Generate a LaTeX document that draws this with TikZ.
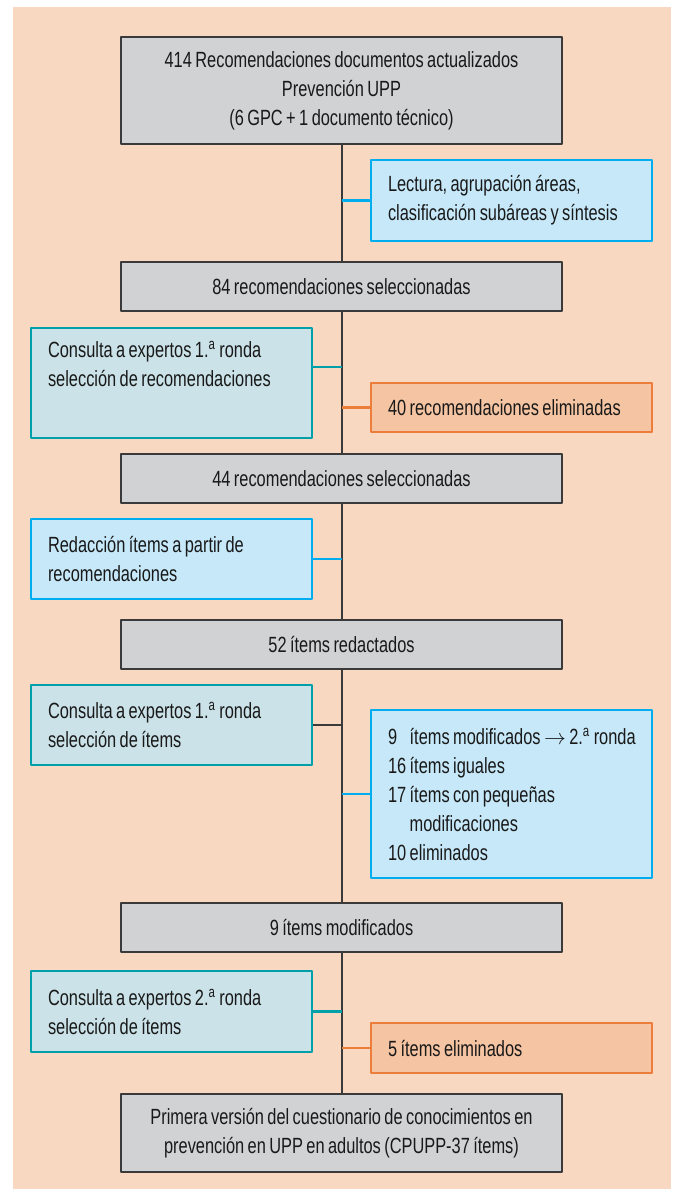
\documentclass[tikz,border=0pt]{standalone}
\usepackage{fontspec}
\setmainfont{Liberation Sans}
\newfontfamily\cond{Liberation Sans}[FakeStretch=0.745,WordSpace=0.75]
\definecolor{peach}{RGB}{248,216,193}
\definecolor{boxgray}{RGB}{209,210,212}
\definecolor{boxline}{RGB}{58,58,58}
\definecolor{cyanfill}{RGB}{198,232,248}
\definecolor{cyanline}{RGB}{0,174,239}
\definecolor{tealfill}{RGB}{202,226,232}
\definecolor{tealline}{RGB}{0,160,170}
\definecolor{orangefill}{RGB}{245,196,162}
\definecolor{orangeline}{RGB}{237,125,58}
\begin{document}
\begin{tikzpicture}[x=0.5pt,y=-0.5pt,declare function={cx=341.5; lx=171.5; rx=511.5;},line join=round,
	every node/.style={font=\cond\fontsize{11}{14.5}\selectfont,text=black!90},
	mainbox/.style={draw=boxline,fill=boxgray,line width=0.7pt,minimum width=220.5pt,align=center},
	sidebox/.style={line width=1.1pt,text width=123.5pt,inner xsep=8.5pt,align=flush left},
	cyanbox/.style={sidebox,draw=cyanline,fill=cyanfill},
	tealbox/.style={sidebox,draw=tealline,fill=tealfill},
	orangebox/.style={sidebox,draw=orangeline,fill=orangefill},
	spine/.style={draw=boxline,line width=1pt}]
	\useasboundingbox (0,0) rectangle (673,1189);
	\fill[peach] (13,7) rectangle (671,1189);
	% main column
	\node[mainbox,minimum height=53.5pt] (rec414) at (cx,90.5) {414 Recomendaciones documentos actualizados\\Prevención UPP\\(6 GPC + 1 documento técnico)};
	\node[mainbox,minimum height=24.5pt] (sel84) at (cx,286.5) {84 recomendaciones seleccionadas};
	\node[mainbox,minimum height=24.5pt] (sel44) at (cx,478.5) {44 recomendaciones seleccionadas};
	\node[mainbox,minimum height=24.5pt] (red52) at (cx,644.5) {52 ítems redactados};
	\node[mainbox,minimum height=24.5pt] (mod9) at (cx,927.5) {9 ítems modificados};
	\node[mainbox,minimum height=39pt] (cpupp) at (cx,1133) {Primera versión del cuestionario de conocimientos en\\prevención en UPP en adultos (CPUPP-37 ítems)};
	% side boxes
	\node[cyanbox,minimum height=40.5pt] (lectura) at (rx,200.5) {Lectura, agrupación áreas,\\clasificación subáreas y síntesis};
	\node[tealbox,minimum height=55pt] (ronda1rec) at (lx,383) {Consulta a expertos 1.\textsuperscript{a} ronda\\selección de recomendaciones\\\strut};
	\node[orangebox,minimum height=24.5pt] (elim40) at (rx,407.5) {40 recomendaciones eliminadas};
	\node[cyanbox,minimum height=40pt] (redaccion) at (lx,559) {Redacción ítems a partir de\\recomendaciones};
	\node[tealbox,minimum height=40pt] (ronda1it) at (lx,725) {Consulta a expertos 1.\textsuperscript{a} ronda\\selección de ítems};
	\node[cyanbox,minimum height=84pt] (resultado) at (rx,794) {\mbox{\rlap{9}\phantom{16}~ítems modificados $\rightarrow$ 2.\textsuperscript{a} ronda}\\16 ítems iguales\\17 ítems con pequeñas\\\phantom{17}~modificaciones\\10 eliminados};
	\node[tealbox,minimum height=40.5pt] (ronda2it) at (lx,1011.5) {Consulta a expertos 2.\textsuperscript{a} ronda\\selección de ítems};
	\node[orangebox,minimum height=25pt] (elim5) at (rx,1048) {5 ítems eliminados};
	% connectors
	\foreach \a/\b in {rec414/sel84,sel84/sel44,sel44/red52,red52/mod9,mod9/cpupp}
		\draw[spine] (\a) -- (\b);
	\coordinate (r1) at ([yshift=8pt]ronda1rec.east);
	\draw[cyanline,line width=1.1pt] (lectura.west) -- (lectura.west -| rec414.south);
	\draw[tealline,line width=1.1pt] (r1) -- (r1 -| sel84.south);
	\draw[orangeline,line width=1.1pt] (elim40.west) -- (elim40.west -| sel84.south);
	\draw[cyanline,line width=1.1pt] (redaccion.east) -- (redaccion.east -| sel44.south);
	\draw[boxline,line width=1.1pt] (ronda1it.east) -- (ronda1it.east -| red52.south);
	\draw[cyanline,line width=1.1pt] (resultado.west) -- (resultado.west -| red52.south);
	\draw[tealline,line width=1.1pt] (ronda2it.east) -- (ronda2it.east -| mod9.south);
	\draw[orangeline,line width=1.1pt] (elim5.west) -- (elim5.west -| mod9.south);
\end{tikzpicture}
\end{document}
